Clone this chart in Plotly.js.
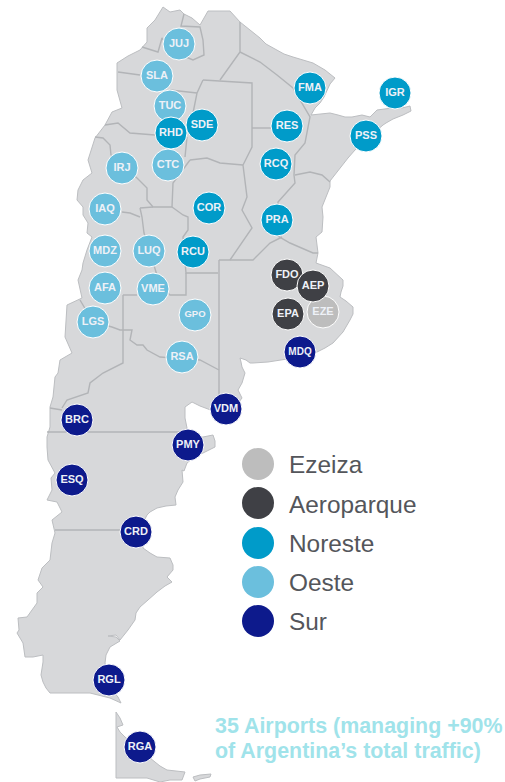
<!DOCTYPE html>
<html><head><meta charset="utf-8">
<script src="https://cdn.plot.ly/plotly-3.0.1.min.js"></script>
<style>html,body{margin:0;padding:0;background:#fff}#c{width:505px;height:782px}</style></head>
<body><div id="c"></div>
<script>
const mainland=[[163,7],[170,12],[180,10],[184,14],[192,18],[200,25],[208,11],[230,11],[240,22],[250,30],[260,38],[266,44],[273,48],[284,54],[293,57],[303,60],[313,63],[325,70],[335,78],[330,84],[327,90],[324,97],[320,103],[315,108],[311,115],[320,114],[330,113],[338,115],[345,117],[352,117],[362,115],[370,117],[377,110],[392,108],[402,108],[410,106],[411,111],[403,115],[393,119],[386,123],[383,125],[368,138],[355,150],[348,158],[340,168],[335,174],[330,181],[330,187],[327,194],[325,200],[322,207],[323,217],[322,232],[316,237],[317,245],[318,253],[316,263],[330,268],[343,280],[343,286],[341,292],[340,297],[346,301],[353,307],[353,314],[350,320],[343,332],[333,343],[325,348],[317,352],[300,357],[283,360],[268,362],[253,363],[250,363],[246,360],[240,358],[241,362],[242,367],[245,373],[242,383],[238,390],[242,398],[233,410],[226,416],[216,412],[210,410],[200,406],[192,402],[185,407],[185,418],[187,428],[186,434],[192,438],[203,437],[213,435],[215,441],[215,447],[203,453],[197,455],[187,463],[184,471],[182,470],[183,482],[178,490],[175,497],[176,505],[166,506],[157,508],[150,512],[147,515],[142,525],[143,548],[150,553],[157,557],[170,558],[173,565],[173,570],[167,577],[172,582],[165,586],[157,592],[148,600],[140,607],[136,613],[135,620],[128,630],[120,640],[116,635],[108,636],[116,637],[120,641],[110,647],[106,655],[105,663],[108,675],[112,690],[118,697],[121,703],[110,698],[90,693],[70,693],[50,693],[46,688],[43,682],[41,675],[42,670],[43,662],[43,655],[33,657],[25,657],[24,650],[23,643],[17,633],[19,630],[18,618],[27,617],[32,610],[37,603],[37,593],[43,587],[38,580],[42,568],[50,560],[51,550],[52,543],[55,533],[52,520],[62,512],[57,502],[47,500],[52,490],[51,478],[55,473],[48,460],[47,447],[47,437],[50,427],[50,407],[53,397],[55,377],[58,373],[60,360],[72,353],[65,337],[66,320],[67,305],[82,298],[80,289],[78,280],[82,270],[83,263],[87,250],[92,237],[87,233],[88,223],[83,215],[83,207],[77,200],[78,190],[83,180],[92,173],[88,160],[90,153],[95,138],[105,125],[112,112],[122,108],[117,90],[117,72],[117,63],[128,56],[140,50],[147,42],[147,28],[155,20]];
const fuego=[[116,712],[120,718],[123,725],[117,727],[120,732],[125,737],[140,750],[153,760],[160,766],[167,770],[185,772],[182,780],[170,780],[160,782],[147,778],[116,778]];
const staten=[[193,777],[200,775],[211,774],[210,777],[200,779],[195,781]];
const borderLines=[
[[184,14],[181,26],[200,27],[203,40],[204,55],[193,60],[186,57],[175,55],[162,38],[158,52],[142,47]],
[[240,22],[240,52],[220,80]],
[[240,52],[260,62],[277,75],[293,88],[310,117],[308,128],[305,143],[295,155],[294,175],[295,183],[278,202],[278,236],[290,243],[313,253],[318,253]],
[[203,80],[252,83],[252,128],[252,147],[243,165],[245,182],[247,197],[242,210],[252,228],[230,260]],
[[252,128],[273,128]],
[[203,80],[197,93],[193,113]],
[[197,93],[185,92],[170,90]],
[[118,72],[140,75]],
[[105,125],[118,123],[130,133],[155,135]],
[[187,137],[185,157]],
[[190,160],[207,158],[220,163],[243,165]],
[[172,207],[173,183],[190,160]],
[[172,207],[183,215],[188,217],[188,230],[183,237],[186,273],[218,273]],
[[95,137],[103,138],[110,145],[111,155],[137,178],[147,188],[147,200],[153,207],[172,207]],
[[140,208],[153,207]],
[[140,208],[142,217],[144,233],[155,270],[160,285],[170,295],[186,295],[186,273]],
[[122,212],[130,213],[140,217]],
[[123,295],[137,295]],
[[123,295],[123,363],[103,373],[90,383],[88,393],[67,400],[62,408]],
[[80,300],[93,322],[112,327],[120,330],[132,330],[130,340],[137,345],[143,345],[147,350],[160,357],[200,360],[219,370]],
[[50,408],[62,410]],
[[47,432],[187,432]],
[[55,530],[120,530]],
[[219,260],[219,400]],
[[219,260],[253,260],[270,243],[282,237]],
[[295,175],[310,172],[322,175],[330,182]]
];
const oesteCodes=["JUJ","SLA","TUC","CTC","IRJ","IAQ","MDZ","LUQ","AFA","VME","LGS","GPO","RSA"];
const oesteX=[179,157,170,168,122,105,105,149,105,153,93,195,182];
const oesteY=[44,76,106,165,168,209,251,251,288,289,322,315,357];
const ezeizaCodes=["EZE"];
const ezeizaX=[323];
const ezeizaY=[312];
const noresteCodes=["RHD","SDE","COR","RCU","FMA","RES","RCQ","PRA","IGR","PSS"];
const noresteX=[171,202,209,193,310,287,276,277,395,366];
const noresteY=[133,125,208,252,88,126,164,220,93,136];
const aeroCodes=["FDO","EPA","AEP"];
const aeroX=[287,288,313];
const aeroY=[275,314,286];
const surCodes=["MDQ","BRC","VDM","PMY","ESQ","CRD","RGL","RGA"];
const surX=[300,77,226,188,72,136,109,140];
const surY=[352,420,409,445,480,532,680,747];
const legendLabels=["Ezeiza","Aeroparque","Noreste","Oeste","Sur"];
const legendColors=["#bdbdbd","#3f4045","#009bc9","#6bbfdd","#0d1a8c"];
const legendX=[258,258,258,258,258];
const legendY=[464,504,543,582,621];
const noteLines=["35 Airports (managing +90%","of Argentina’s total traffic)"];
const noteY=[725.5,750.5];

function joinX(list){return list.flatMap(l=>[...l.map(p=>p[0]),null]);}
function joinY(list){return list.flatMap(l=>[...l.map(p=>p[1]),null]);}
const land=[mainland.concat([mainland[0]]),fuego.concat([fuego[0]]),staten.concat([staten[0]])];
const FONT="Liberation Sans, Arial, sans-serif";
function airports(x,y,codes,col){
  return {type:"scatter",mode:"markers+text",x:x,y:y,text:codes,textposition:"middle center",cliponaxis:false,
    textfont:{family:FONT,size:codes.map(c=>c==="GPO"?9.5:(c==="MDQ"?10:11)),color:"#eef1f7",weight:700},
    marker:{size:32,color:col,line:{color:"#ffffff",width:1}},hoverinfo:"text",showlegend:false};
}
const traces=[
 {type:"scatter",mode:"lines",x:joinX(land),y:joinY(land),fill:"toself",fillcolor:"#d7d8da",line:{color:"#bcbec1",width:1},hoverinfo:"skip",showlegend:false},
 {type:"scatter",mode:"lines",x:joinX(borderLines),y:joinY(borderLines),line:{color:"#b2b4b7",width:1.4},hoverinfo:"skip",showlegend:false},
 airports(oesteX,oesteY,oesteCodes,legendColors[3]),
 airports(ezeizaX,ezeizaY,ezeizaCodes,legendColors[0]),
 airports(noresteX,noresteY,noresteCodes,legendColors[2]),
 airports(aeroX,aeroY,aeroCodes,legendColors[1]),
 airports(surX,surY,surCodes,legendColors[4]),
 {type:"scatter",mode:"markers",x:legendX,y:legendY.map((v,i)=>[464,503,543,582,621][i]),marker:{size:32,color:legendColors},hoverinfo:"skip",showlegend:false}
];
const annotations=legendLabels.map((t,i)=>({x:287.5,y:legendY[i],xref:"x",yref:"y",xanchor:"left",yanchor:"middle",showarrow:false,text:t,font:{family:FONT,size:24.4,color:"#54565b"},borderpad:0}))
 .concat(noteLines.map((t,i)=>({x:214,y:noteY[i],xref:"x",yref:"y",xanchor:"left",yanchor:"middle",showarrow:false,text:"<b>"+t+"</b>",font:{family:FONT,size:21.4,color:"#a0e3ea"},borderpad:0})));
const axis={visible:false,fixedrange:true,showgrid:false,zeroline:false};
Plotly.newPlot("c",traces,{
  width:505,height:782,margin:{l:0,r:0,t:0,b:0,pad:0},paper_bgcolor:"#fff",plot_bgcolor:"#fff",
  xaxis:Object.assign({range:[0,505]},axis),yaxis:Object.assign({range:[782,0]},axis),
  annotations:annotations,showlegend:false
},{displayModeBar:false,staticPlot:true});
</script></body></html>
